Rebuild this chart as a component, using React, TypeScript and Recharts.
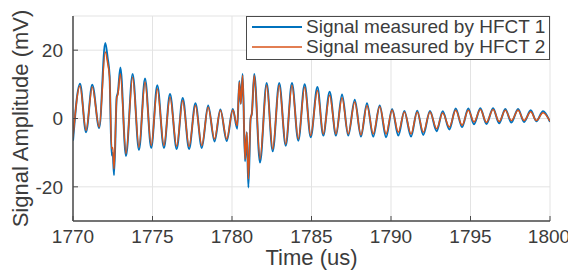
import React from 'react';
import { LineChart, Line, XAxis, YAxis, CartesianGrid, Legend } from 'recharts';

const FONT = '"Liberation Sans", Arial, Helvetica, sans-serif';

// time (us) of each read-off point (peaks, troughs and kinks)
const timeUs = [
  1770.0, 1770.44, 1770.82, 1771.21, 1771.65, 1772.03, 1772.18, 1772.3, 1772.43, 1772.5,
  1772.58, 1772.75, 1772.82, 1772.98, 1773.33, 1773.75, 1774.15, 1774.53, 1774.92, 1775.3,
  1775.72, 1776.1, 1776.52, 1776.9, 1777.3, 1777.7, 1778.1, 1778.5, 1778.9, 1779.27,
  1779.67, 1780.05, 1780.33, 1780.46, 1780.55, 1780.67, 1780.82, 1780.93, 1781.03, 1781.17,
  1781.25, 1781.4, 1781.76, 1782.18, 1782.56, 1782.97, 1783.38, 1783.77, 1784.17, 1784.57,
  1784.95, 1785.37, 1785.74, 1786.14, 1786.54, 1786.92, 1787.31, 1787.72, 1788.11, 1788.49,
  1788.88, 1789.29, 1789.69, 1790.07, 1790.46, 1790.84, 1791.26, 1791.65, 1792.03, 1792.45,
  1792.87, 1793.25, 1793.67, 1794.07, 1794.47, 1794.86, 1795.22, 1795.62, 1796.0, 1796.42,
  1796.8, 1797.19, 1797.57, 1797.99, 1798.37, 1798.79, 1799.14, 1799.56, 1800.0,
];

// Signal measured by HFCT 1 (mV)
const hfct1 = [
  -6.5, 10.2, -4.0, 9.9, -2.8, 22.1, 17.6, 12.5, -10.8, -10.0,
  -16.6, 6.3, 7.5, 14.9, -11.0, 13.0, -9.2, 11.7, -8.6, 9.7,
  -8.6, 7.2, -8.9, 6.0, -8.9, 4.5, -8.6, 3.8, -6.7, 2.6,
  -6.6, 2.8, -3.0, 11.0, 4.3, 13.0, -12.5, -4.0, -20.2, 0.0,
  1.5, 13.0, -12.9, 10.4, -9.6, 10.4, -8.0, 10.4, -6.5, 10.0,
  -5.5, 9.2, -5.0, 7.8, -5.0, 7.0, -5.0, 5.5, -5.3, 4.5,
  -5.3, 3.8, -5.5, 2.8, -5.0, 2.2, -5.3, 2.3, -4.8, 2.2,
  -3.7, 2.1, -3.2, 2.9, -2.5, 2.9, -1.7, 3.0, -1.6, 3.0,
  -1.4, 2.8, -1.2, 2.8, -1.0, 2.4, -0.8, 2.1, -1.0,
];

// Signal measured by HFCT 2 (mV)
const hfct2 = [
  -5.5, 9.5, -3.5, 9.2, -2.5, 19.5, 16.2, 12.0, -8.8, -8.5,
  -14.7, 6.0, 7.0, 13.1, -10.3, 12.1, -8.4, 10.7, -7.9, 8.7,
  -7.9, 6.3, -8.1, 5.3, -8.2, 3.8, -7.9, 3.3, -6.0, 2.4,
  -6.0, 2.5, -2.1, 10.7, 4.3, 12.6, -11.9, -4.0, -17.7, 0.0,
  1.5, 12.6, -11.9, 9.7, -8.9, 9.7, -7.5, 9.7, -6.0, 9.2,
  -5.0, 8.2, -4.5, 6.8, -4.5, 6.1, -4.5, 4.8, -4.8, 3.8,
  -4.5, 3.5, -4.5, 2.5, -4.0, 1.9, -4.5, 1.9, -4.0, 1.9,
  -3.0, 1.6, -2.5, 2.4, -2.0, 2.4, -1.0, 2.6, -1.1, 2.6,
  -0.9, 2.4, -0.6, 2.4, -0.6, 2.0, -0.6, 1.7, -0.8,
];

const xTicks = [1770, 1775, 1780, 1785, 1790, 1795, 1800];
const yTicks = [-20, 0, 20];
const seriesNames = ['Signal measured by HFCT 1', 'Signal measured by HFCT 2'];
const seriesColors = ['#0072BD', '#D95319'];
const seriesWidths = [2, 1.5];

const data = timeUs.map((t, i) => ({ t, s1: hfct1[i], s2: hfct2[i] }));

const AXIS = '#4a4a4a';
const TEXT = '#3c3c3c';

const renderLegend = () => (
  <div
    style={{
      width: 304,
      height: 44,
      boxSizing: 'border-box',
      border: `1px solid ${AXIS}`,
      background: '#fff',
      fontFamily: FONT,
      fontSize: 19,
      color: TEXT,
    }}
  >
    {seriesNames.map((name, i) => (
      <div key={name} style={{ display: 'flex', alignItems: 'center', height: 20 }}>
        <svg width={50} height={4} style={{ marginLeft: 5, display: 'block' }}>
          <line x1={0} y1={2} x2={50} y2={2} stroke={seriesColors[i]} strokeWidth={seriesWidths[i]} />
        </svg>
        <span style={{ marginLeft: 4, lineHeight: '20px', whiteSpace: 'nowrap' }}>{name}</span>
      </div>
    ))}
  </div>
);

export default function App() {
  const tickStyle = { fontSize: 19, fill: TEXT, fontFamily: FONT };
  return (
    <div style={{ position: 'absolute', left: 0, top: 0, fontFamily: FONT }}>
      <LineChart width={568} height={274} data={data} margin={{ top: 16, right: 18, bottom: 0, left: 0 }}>
        <CartesianGrid stroke="#e3e3e3" strokeWidth={1} />
        <XAxis
          xAxisId={0}
          dataKey="t"
          type="number"
          domain={[1770, 1800]}
          ticks={xTicks}
          allowDataOverflow
          height={53}
          axisLine={{ stroke: AXIS, strokeWidth: 1.5 }}
          tickLine={{ stroke: AXIS }}
          tickSize={-5}
          tickMargin={14}
          tick={tickStyle}
          label={{ value: 'Time (us)', position: 'insideBottom', offset: 9, fill: TEXT, fontSize: 22, fontFamily: FONT }}
        />
        <XAxis
          xAxisId="top"
          orientation="top"
          dataKey="t"
          type="number"
          domain={[1770, 1800]}
          ticks={xTicks}
          allowDataOverflow
          height={0}
          axisLine={{ stroke: AXIS, strokeWidth: 1.5 }}
          tickLine={{ stroke: AXIS }}
          tickSize={-5}
          tick={false}
        />
        <YAxis
          yAxisId={0}
          type="number"
          domain={[-30, 30]}
          ticks={yTicks}
          allowDataOverflow
          width={73}
          axisLine={{ stroke: AXIS, strokeWidth: 1.5 }}
          tickLine={{ stroke: AXIS }}
          tickSize={-5}
          tickMargin={15}
          tick={tickStyle}
          label={{
            value: 'Signal Amplitude (mV)',
            angle: -90,
            position: 'insideLeft',
            offset: 20,
            fill: TEXT,
            fontSize: 22,
            fontFamily: FONT,
            style: { textAnchor: 'middle' },
          }}
        />
        <YAxis
          yAxisId="right"
          orientation="right"
          type="number"
          domain={[-30, 30]}
          ticks={yTicks}
          allowDataOverflow
          width={0}
          axisLine={{ stroke: AXIS, strokeWidth: 1.5 }}
          tickLine={{ stroke: AXIS }}
          tickSize={-5}
          tick={false}
        />
        <Line
          xAxisId={0}
          yAxisId={0}
          type="monotone"
          dataKey="s1"
          name={seriesNames[0]}
          stroke={seriesColors[0]}
          strokeWidth={seriesWidths[0]}
          dot={false}
          isAnimationActive={false}
        />
        <Line
          xAxisId={0}
          yAxisId={0}
          type="monotone"
          dataKey="s2"
          name={seriesNames[1]}
          stroke={seriesColors[1]}
          strokeWidth={seriesWidths[1]}
          dot={false}
          isAnimationActive={false}
        />
        <Legend
          layout="horizontal"
          verticalAlign="middle"
          align="center"
          content={renderLegend}
          wrapperStyle={{ left: 246, top: 16, width: 304, height: 44, right: 'auto', bottom: 'auto' }}
        />
      </LineChart>
    </div>
  );
}
